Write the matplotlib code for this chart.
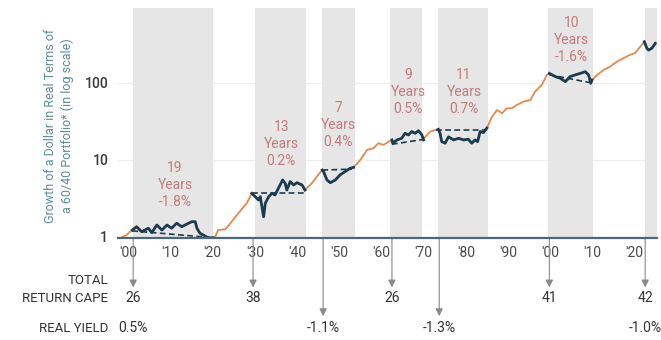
import numpy as np
import matplotlib.pyplot as plt

plt.rcParams['font.family'] = ['Roboto', 'DejaVu Sans']

# growth of a dollar (real, log scale)
years = [1898.6, 1899.5, 1900.3, 1901.0, 1902.0, 1903.2, 1904.8, 1905.6, 1906.8, 1908.0,
         1909.2, 1910.3, 1911.5, 1912.7, 1913.9, 1915.1, 1915.9, 1916.3, 1917.0, 1917.8,
         1918.6, 1919.4, 1920.1, 1920.6, 1921.3, 1923.0, 1924.2, 1926.1, 1928.1, 1929.3,
         1929.7, 1930.9, 1931.3, 1932.1, 1932.5, 1933.3, 1934.1, 1934.8, 1935.6, 1936.6,
         1937.2, 1937.6, 1938.4, 1939.2, 1940.0, 1941.2, 1941.9, 1943.5, 1945.0, 1946.0,
         1946.3, 1947.1, 1947.9, 1949.1, 1950.2, 1951.4, 1952.6, 1953.4, 1955.0, 1956.6,
         1958.1, 1959.3, 1960.5, 1961.7, 1962.5, 1962.7, 1963.7, 1964.8, 1965.6, 1966.4,
         1967.2, 1968.0, 1968.8, 1969.6, 1970.0, 1970.4, 1971.6, 1972.7, 1973.5, 1973.9,
         1974.3, 1975.1, 1975.9, 1977.1, 1978.3, 1979.5, 1980.6, 1981.4, 1982.2, 1982.8,
         1983.4, 1984.2, 1985.0, 1986.2, 1987.4, 1988.6, 1989.7, 1990.9, 1992.1, 1993.7,
         1995.3, 1996.4, 1998.0, 1999.2, 1999.8, 2001.2, 2002.4, 2003.6, 2004.7, 2005.9,
         2007.1, 2008.3, 2009.1, 2009.6, 2009.9, 2011.1, 2012.6, 2014.2, 2015.8, 2017.4,
         2018.9, 2020.1, 2021.3, 2022.3, 2022.9, 2023.3, 2024.1, 2024.9]
values = [1.0, 1.05, 1.15, 1.23, 1.36, 1.17, 1.30, 1.14, 1.43, 1.23,
          1.43, 1.30, 1.51, 1.36, 1.47, 1.58, 1.58, 1.30, 1.12, 1.06,
          1.00, 0.97, 0.98, 1.0, 1.23, 1.26, 1.5, 2.03, 2.74, 3.69,
          3.51, 3.02, 3.34, 1.83, 2.74, 3.34, 3.69, 3.51, 4.29, 5.5,
          4.98, 4.07, 5.25, 4.73, 5.07, 4.73, 4.07, 4.98, 6.4, 7.4,
          7.06, 5.5, 5.07, 5.5, 6.4, 7.06, 7.8, 8.0, 10, 13.5,
          14.2, 16.5, 15.7, 17.3, 18.2, 16.5, 18.2, 19.1, 22.2, 21.1,
          23.4, 22.2, 24.0, 21.1, 18.2, 20, 23.4, 24.5, 25.0, 22.2,
          17.3, 16.5, 20, 18.2, 19.1, 18.2, 18.6, 16.5, 18.2, 17.3,
          23.4, 22.7, 26, 36.4, 44.6, 40.4, 46.9, 46.9, 51.9, 57.3,
          60, 77, 94, 127, 133, 121, 115, 104, 121, 127,
          133, 140, 127, 99, 109, 127, 147, 163, 189, 210,
          232, 244, 295, 343, 283, 267, 283, 327]

# flat real-return periods
flat_start = [1901.0, 1929.3, 1946.0, 1962.5, 1973.5, 1999.8, 2022.3]
flat_end = [1920.1, 1942.0, 1953.4, 1970.0, 1985.0, 2009.9, 2025.0]
shade_start = [1901.2, 1930.0, 1946.0, 1962.1, 1973.5, 1999.5, 2022.5]
shade_end = [1920.1, 1942.2, 1953.8, 1969.7, 1985.3, 2010.2, 2025.3]

# dashed trend lines inside the flat periods
trend_x0 = [1901.0, 1929.3, 1946.0, 1962.5, 1973.0, 1999.8]
trend_y0 = [1.2, 3.75, 7.4, 16.0, 24.5, 128]
trend_x1 = [1920.0, 1942.0, 1953.0, 1970.0, 1985.0, 2009.8]
trend_y1 = [0.98, 3.75, 7.6, 18.5, 24.5, 100]

period_labels = ["19\nYears\n-1.8%", "13\nYears\n0.2%", "7\nYears\n0.4%",
                 "9\nYears\n0.5%", "11\nYears\n0.7%", "10\nYears\n-1.6%"]
label_x = [1911.1, 1936.3, 1949.8, 1966.4, 1979.6, 2005.0]
label_y = [4.7, 16.1, 28.4, 76, 76, 360]

cape_years = [1901.2, 1929.6, 1962.5, 1999.8, 2022.5]
cape_values = ["26", "38", "26", "41", "42"]
yield_arrow_years = [1946.2, 1973.7]
yield_years = [1901.2, 1946.2, 1973.7, 2022.5]
yield_values = ["0.5%", "-1.1%", "-1.3%", "-1.0%"]

tick_years = list(range(1900, 2021, 10))
tick_labels = ["'00", "'10", "'20", "'30", "'40", "'50", "'60", "'70", "'80", "'90", "'00", "'10", "'20"]

orange = '#e8884c'
navy = '#1b3c50'
rose = '#c47a7c'
arrow_gray = '#8a8a8a'

fig = plt.figure(figsize=(6.61, 3.40), dpi=100)
ax = fig.add_axes([118 / 661, 1 - 238 / 340, (657 - 118) / 661, 230 / 340])

yrs = np.array(years)
vals = np.array(values)

for s, e in zip(shade_start, shade_end):
    ax.axvspan(s, e, color='#e6e6e6', lw=0, zorder=1)

ax.plot(yrs, vals, color=orange, lw=1.3, zorder=3)
for s, e in zip(flat_start, flat_end):
    m = (yrs >= s - 0.01) & (yrs <= e + 0.01)
    ax.plot(yrs[m], vals[m], color=navy, lw=2.0, zorder=4, solid_joinstyle='round')

for x0, y0, x1, y1 in zip(trend_x0, trend_y0, trend_x1, trend_y1):
    ax.plot([x0, x1], [y0, y1], color=navy, lw=1.2, ls=(0, (3.5, 2)), zorder=5)

for t, x, y in zip(period_labels, label_x, label_y):
    ax.text(x, y, t, color=rose, fontsize=10, ha='center', va='center',
            linespacing=1.25, zorder=6)

ax.set_yscale('log')
ax.set_xlim(1897.6, 2025.3)
ax.set_ylim(0.97, 940)
ax.set_yticks([1, 10, 100])
ax.set_yticklabels(['1', '10', '100'])
ax.yaxis.set_minor_locator(plt.NullLocator())
ax.set_xticks(tick_years)
ax.set_xticklabels(tick_labels)
ax.tick_params(axis='y', length=0, pad=7, labelsize=10, labelcolor='#3a3a3a')
ax.tick_params(axis='x', length=0, pad=6, labelsize=10, labelcolor='#4a4a4a')
for lab in ax.get_yticklabels():
    lab.set_fontweight('medium')

ax.grid(axis='y', color='#eeeeee', lw=0.8, zorder=0)
ax.set_axisbelow(True)
for side in ['top', 'right', 'left']:
    ax.spines[side].set_visible(False)
ax.spines['bottom'].set_color('#4c6878')
ax.spines['bottom'].set_linewidth(1.6)
ax.spines['bottom'].set_zorder(7)

fig.text(59 / 661, 1 - 126 / 340,
         "Growth of a Dollar in Real Terms of\na 60/40 Portfolio* (in log scale)",
         rotation=90, ha='center', va='center', fontsize=9, color='#5d8c98',
         linespacing=1.3)

trans = ax.get_xaxis_transform()
for x in cape_years:
    ax.annotate('', xy=(x, -0.215), xytext=(x, 0), xycoords=trans, textcoords=trans,
                arrowprops=dict(arrowstyle='-|>', color=arrow_gray, lw=0.8,
                                mutation_scale=11, shrinkA=0, shrinkB=0),
                annotation_clip=False)
for x in yield_arrow_years:
    ax.annotate('', xy=(x, -0.34), xytext=(x, 0), xycoords=trans, textcoords=trans,
                arrowprops=dict(arrowstyle='-|>', color=arrow_gray, lw=0.8,
                                mutation_scale=11, shrinkA=0, shrinkB=0),
                annotation_clip=False)
for x, t in zip(cape_years, cape_values):
    ax.text(x, -0.261, t, transform=trans, ha='center', va='center', fontsize=10,
            color='#333333', clip_on=False)
for x, t in zip(yield_years, yield_values):
    ax.text(x, -0.391, t, transform=trans, ha='center', va='center', fontsize=10,
            color='#333333', clip_on=False)

fig.text(108 / 661, 1 - 280 / 340, "TOTAL", ha='right', va='center', fontsize=9.5, color='#333333')
fig.text(108 / 661, 1 - 298 / 340, "RETURN CAPE", ha='right', va='center', fontsize=9.5, color='#333333')
fig.text(108 / 661, 1 - 328 / 340, "REAL YIELD", ha='right', va='center', fontsize=9.5, color='#333333')

fig.savefig('out.png', dpi=100)
